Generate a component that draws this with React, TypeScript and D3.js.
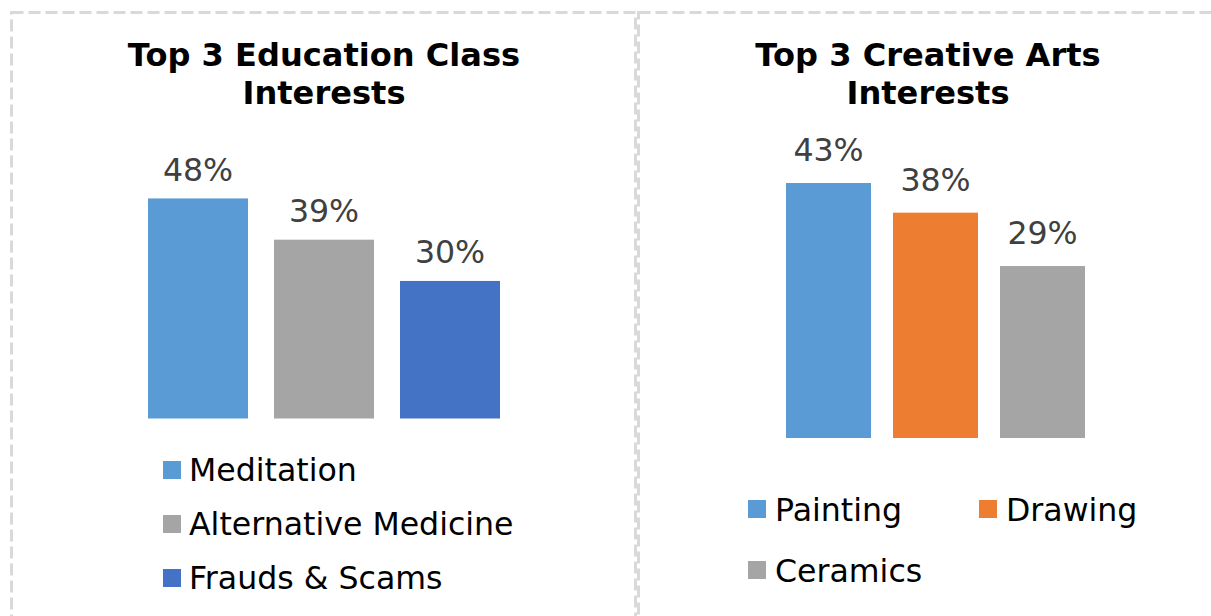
import React from "react";
import * as d3 from "d3";

const eduCategories = ["Meditation", "Alternative Medicine", "Frauds & Scams"];
const eduValues = [48, 39, 30];
const eduColors = ["#5B9BD5", "#A5A5A5", "#4472C4"];

const artCategories = ["Painting", "Drawing", "Ceramics"];
const artValues = [43, 38, 29];
const artColors = ["#5B9BD5", "#ED7D31", "#A5A5A5"];

const FONT = "'DejaVu Sans', Verdana, sans-serif";
const FS = 31.6;
const TFS = 32.1;

export default function App() {
  const W = 1211, H = 616;

  // left panel scales
  const xL = d3.scaleBand<string>().domain(eduCategories).range([85, 563]).paddingInner(0.2063).paddingOuter(0.5);
  const yL = d3.scaleLinear().domain([0, 50]).range([418.5, 418.5 - 229.25]);

  // right panel scales (step 107)
  const stepR = 107;
  const totalR = stepR * (artCategories.length - 0.2056 + 1);
  const xR = d3.scaleBand<string>().domain(artCategories).range([935.5 - totalR / 2, 935.5 + totalR / 2]).paddingInner(0.2056).paddingOuter(0.5);
  const yR = d3.scaleLinear().domain([0, 50]).range([438, 438 - 296.5]);

  return (
    <svg width={W} height={H} style={{ position: "absolute", left: 0, top: 0, background: "#fff" }}>
      <rect x={0} y={0} width={W} height={H} fill="#fff" />
      {/* panel borders */}
      <rect x={11.5} y={12.5} width={624} height={720} fill="none" stroke="#D9D9D9" strokeWidth={3} strokeDasharray="12 5" />
      <rect x={638.5} y={12.5} width={720} height={720} fill="none" stroke="#D9D9D9" strokeWidth={3} strokeDasharray="12 5" />

      {/* left title */}
      <text x={324} y={66} textAnchor="middle" fontFamily={FONT} fontWeight="bold" fontSize={TFS} fill="#000">
        <tspan x={324} dy={0}>Top 3 Education Class</tspan>
        <tspan x={324} dy={38}>Interests</tspan>
      </text>
      {/* right title */}
      <text x={928} y={66} textAnchor="middle" fontFamily={FONT} fontWeight="bold" fontSize={TFS} fill="#000">
        <tspan x={928} dy={0}>Top 3 Creative Arts</tspan>
        <tspan x={928} dy={38}>Interests</tspan>
      </text>

      {/* left bars */}
      {eduCategories.map((c, i) => (
        <g key={c}>
          <rect x={xL(c)!} y={yL(eduValues[i])} width={xL.bandwidth()} height={yL(0) - yL(eduValues[i])} fill={eduColors[i]} />
          <text x={xL(c)! + xL.bandwidth() / 2} y={yL(eduValues[i]) - 17.5} textAnchor="middle" fontFamily={FONT} fontSize={FS} fill="#404040">
            {eduValues[i]}%
          </text>
        </g>
      ))}

      {/* right bars */}
      {artCategories.map((c, i) => (
        <g key={c}>
          <rect x={xR(c)!} y={yR(artValues[i])} width={xR.bandwidth()} height={yR(0) - yR(artValues[i])} fill={artColors[i]} />
          <text x={xR(c)! + xR.bandwidth() / 2} y={yR(artValues[i]) - 22} textAnchor="middle" fontFamily={FONT} fontSize={FS} fill="#404040">
            {artValues[i]}%
          </text>
        </g>
      ))}

      {/* left legend */}
      {eduCategories.map((c, i) => (
        <g key={c} transform={`translate(163, ${461 + i * 54})`}>
          <rect x={0} y={0} width={18} height={18} fill={eduColors[i]} />
          <text x={26} y={20} fontFamily={FONT} fontSize={FS} fill="#000">{c}</text>
        </g>
      ))}

      {/* right legend */}
      {artCategories.map((c, i) => {
        const col = i % 2;
        const row = Math.floor(i / 2);
        return (
          <g key={c} transform={`translate(${748 + col * 231}, ${500 + row * 61})`}>
            <rect x={0} y={0} width={18} height={18} fill={artColors[i]} />
            <text x={27} y={20.5} fontFamily={FONT} fontSize={FS} fill="#000">{c}</text>
          </g>
        );
      })}
    </svg>
  );
}
